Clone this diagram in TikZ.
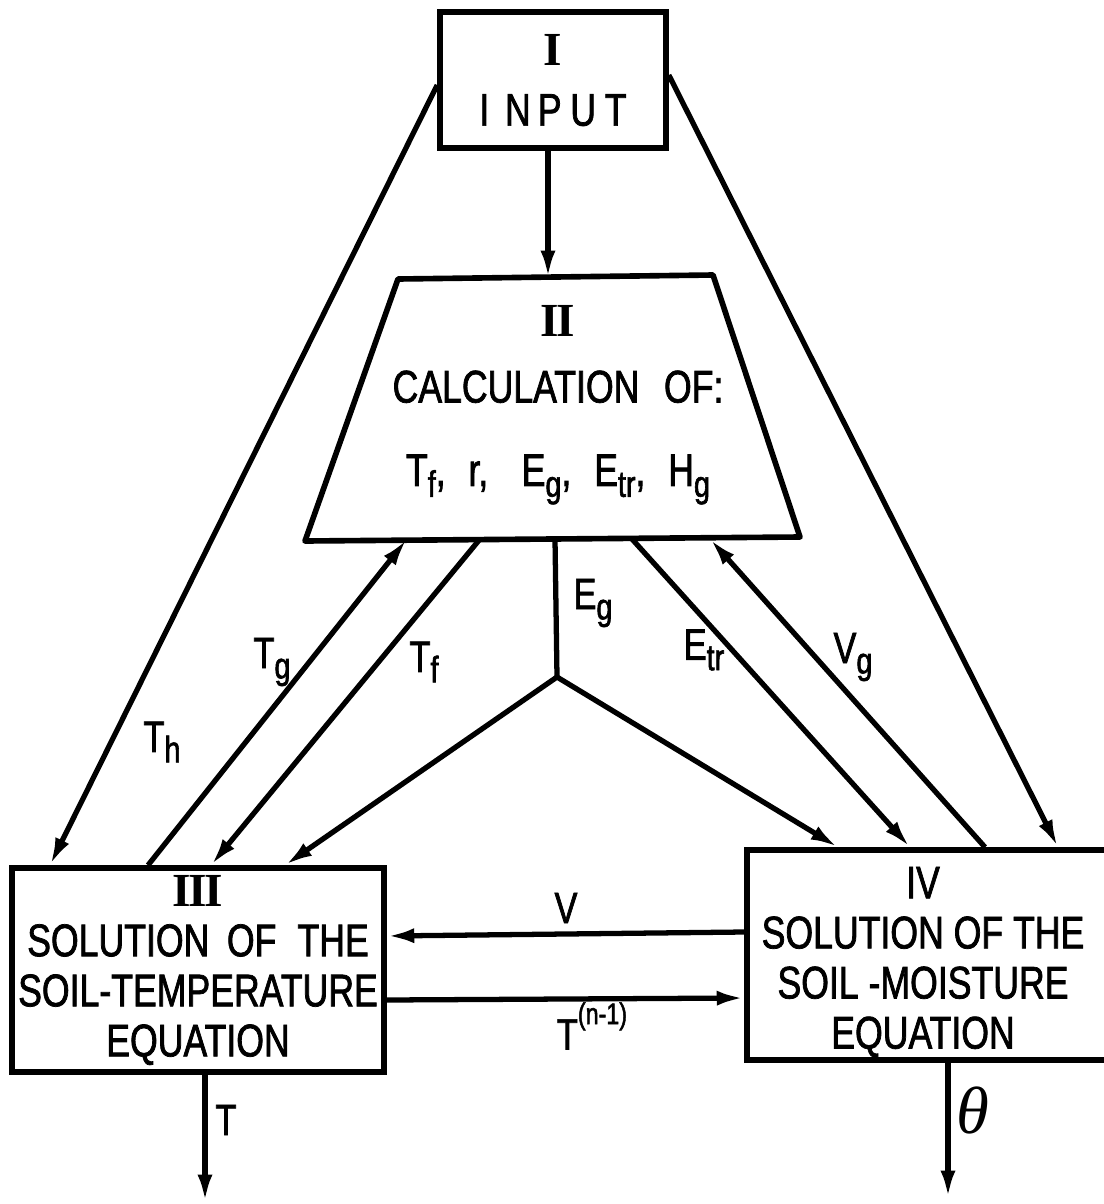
\documentclass[tikz,border=0pt]{standalone}
\usepackage{fontspec}
\setmainfont[FakeStretch=0.78,FakeBold=1.6]{Liberation Sans}
\newfontfamily\romfont{Liberation Serif}
\usetikzlibrary{arrows.meta}
\newcommand{\lsub}[2]{#1\raisebox{-0.45ex}{\fontsize{21}{21}\selectfont #2}}
\newcommand{\romnum}[1]{{\fontsize{27}{27}\selectfont\romfont\bfseries #1}}
\newcommand{\sep}{,\hspace{13pt}}
\begin{document}
\begin{tikzpicture}[x=0.02cm,y=-0.02cm,
  box/.style={draw, line width=3.2pt, align=center, inner sep=0pt,
    font=\fontsize{26}{28.5}\selectfont},
  conn/.style={line width=3pt},
  arr/.style={conn, -{Latex[length=0.55cm,width=0.3cm]}},
  lbl/.style={font=\fontsize{25}{25}\selectfont, inner sep=0pt}
]
\useasboundingbox (0,0) rectangle (1104,1204);

% Box I
\node[box, minimum width=4.52cm, minimum height=2.72cm] (I) at (553,80)
  {\romnum{I}\\[6pt] I\hspace{9pt}N\hspace{4pt}P\hspace{5pt}U\hspace{5pt}T};

% Trapezium II
\coordinate (IItl) at (398,279);
\coordinate (IItr) at (713,275);
\coordinate (IIbr) at (800,537);
\coordinate (IIbl) at (305,541);
\coordinate (IIt) at (548,278);
\coordinate (IIb) at (555,539);
\draw[line width=3.2pt, line join=round] (IItl) -- (IItr) -- (IIbr) -- (IIbl) -- cycle;
\node[align=center, inner sep=0pt, font=\fontsize{26}{28.5}\selectfont] (II) at (558,405)
  {\romnum{I\kern-0.05em I}\\[9pt] CALCULATION\hspace{14pt}OF:\\[19pt]
   \lsub{T}{f}\sep r\sep\hspace{6pt}\lsub{E}{g}\sep\lsub{E}{tr}\sep\lsub{H}{g}};

% Box III
\node[box, minimum width=7.44cm, minimum height=4.08cm] (III) at (198,970)
  {\romnum{I\kern-0.05em I\kern-0.05em I}\\ SOLUTION\hspace{10pt}OF\hspace{12pt}THE\\ SOIL-TEMPERATURE\\ EQUATION\hspace{40pt}};

% Box IV
\node[box, minimum width=7.3cm, minimum height=4.2cm] (IV) at (929.5,955) {};
\node[align=center, inner sep=0pt, font=\fontsize{26}{28.5}\selectfont] (IVt) at (923,962)
  {IV\\ SOLUTION OF THE\\ SOIL -MOISTURE\\ EQUATION};

% Connectors from I
\draw[arr] (548,0 |- I.south) -- (IIt);
\draw[arr] (I.west |- 0,85) -- (50,0 |- III.north);
\draw[arr] (I.east |- 0,75) -- (1058,0 |- IV.north);

% Between II and III
\draw[arr] (148,0 |- III.north) -- (407,0 |- IIb);
\draw[arr] (480,0 |- IIb) -- (211,0 |- III.north);

% Eg branch
\coordinate (J) at (557,677);
\draw[conn] (IIb) -- (J);
\draw[arr] (J) -- (285,0 |- III.north);
\draw[arr] (J) -- (838,0 |- IV.north);

% Between II and IV
\draw[arr] (632,0 |- IIb) -- (910,0 |- IV.north);
\draw[arr] (985,0 |- IV.north) -- (710,0 |- IIb);

% Between III and IV
\draw[arr] (IV.west |- 0,932) -- (III.east |- 0,936);
\draw[arr] (III.east |- 0,1000) -- (IV.west |- 0,998);

% Outputs
\coordinate (Tend) at (205,1202);
\coordinate (Thend) at (948,1198);
\draw[arr] (205,0 |- III.south) -- (Tend);
\draw[arr] (948,0 |- IV.south) -- (Thend);

% Labels
\node[lbl] (lTg) at (272,662) {\lsub{T}{g}};
\node[lbl] (lTh) at (162,742) {\lsub{T}{h}};
\node[lbl] (lTf) at (424,662) {\lsub{T}{f}};
\node[lbl] (lEg) at (593,603) {\lsub{E}{g}};
\node[lbl] (lEtr) at (704,650) {\lsub{E}{tr}};
\node[lbl] (lVg) at (853,657) {\lsub{V}{g}};
\node[lbl] (lV) at (566,908) {V};
\node[lbl] (lTn) at (592,1026) {T\raisebox{1.1ex}{\fontsize{17}{17}\selectfont (n-1)}};
\node[lbl] (lT) at (226,1120) {T};
\node[lbl, font=\fontsize{38}{38}\selectfont\romfont\itshape] (lth) at (973,1110) {θ};
\end{tikzpicture}
\end{document}
